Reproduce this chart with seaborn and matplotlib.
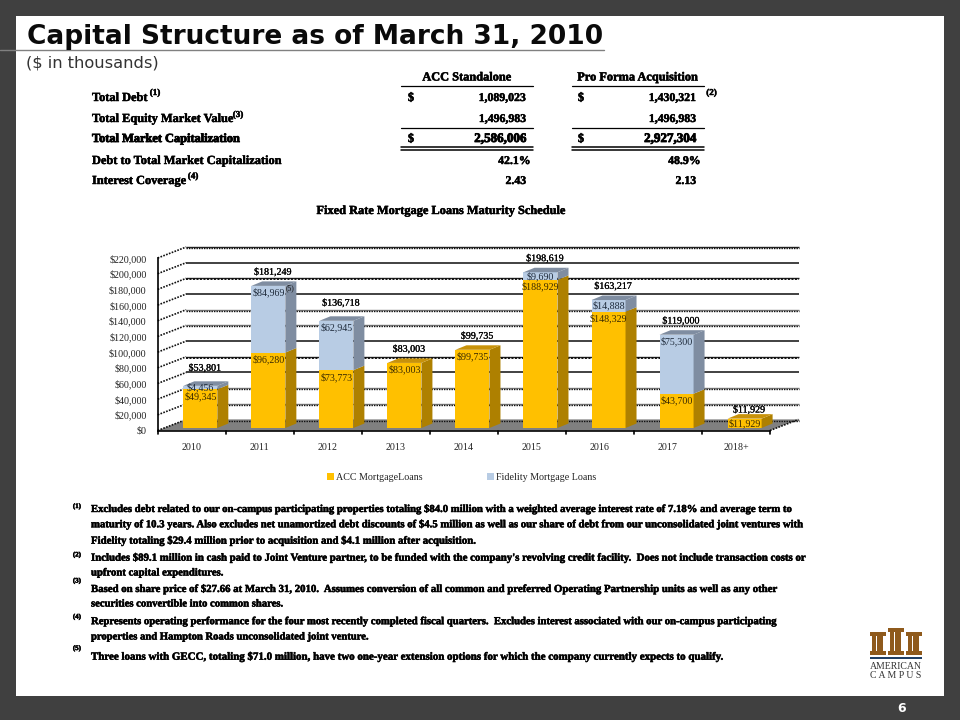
import matplotlib
matplotlib.use("Agg")
import matplotlib.pyplot as plt
import seaborn as sns
import numpy as np
from matplotlib.patches import Rectangle
from matplotlib.transforms import Affine2D
import matplotlib.patheffects as pe

# ---------- data ----------
years = ["2010", "2011", "2012", "2013", "2014", "2015", "2016", "2017", "2018+"]
acc_loans = [49345, 96280, 73773, 83003, 99735, 188929, 148329, 43700, 11929]
fidelity_loans = [4456, 84969, 62945, 0, 0, 9690, 14888, 75300, 0]
y_ticks = [0, 20000, 40000, 60000, 80000, 100000, 120000, 140000, 160000, 180000, 200000, 220000]
series_names = ["ACC MortgageLoans", "Fidelity Mortgage Loans"]

table_headers = ["ACC Standalone", "Pro Forma Acquisition"]
table_rows = ["Total Debt", "Total Equity Market Value", "Total Market Capitalization",
              "Debt to Total Market Capitalization", "Interest Coverage"]
acc_column = ["1,089,023", "1,496,983", "2,586,006", "42.1%", "2.43"]
pro_forma_column = ["1,430,321", "1,496,983", "2,927,304", "48.9%", "2.13"]

footnotes = [
    "Excludes debt related to our on-campus participating properties totaling $84.0 million with a weighted average interest rate of 7.18% and average term to",
    "maturity of 10.3 years. Also excludes net unamortized debt discounts of $4.5 million as well as our share of debt from our unconsolidated joint ventures with",
    "Fidelity totaling $29.4 million prior to acquisition and $4.1 million after acquisition.",
    "Includes $89.1 million in cash paid to Joint Venture partner, to be funded with the company's revolving credit facility.  Does not include transaction costs or",
    "upfront capital expenditures.",
    "Based on share price of $27.66 at March 31, 2010.  Assumes conversion of all common and preferred Operating Partnership units as well as any other",
    "securities convertible into common shares.",
    "Represents operating performance for the four most recently completed fiscal quarters.  Excludes interest associated with our on-campus participating",
    "properties and Hampton Roads unconsolidated joint venture.",
    "Three loans with GECC, totaling $71.0 million, have two one-year extension options for which the company currently expects to qualify.",
]

# ---------- page ----------
sns.set_theme(style="white")
plt.rcParams["font.family"] = ["Liberation Serif", "DejaVu Sans"]
W, H = 960, 720
fig = plt.figure(figsize=(9.6, 7.2), dpi=100, facecolor="#404040")
page = fig.add_axes([0, 0, 1, 1], zorder=0)
page.set_xlim(0, W); page.set_ylim(H, 0); page.axis("off")
page.add_patch(Rectangle((16, 16), 928, 680, fc="white", ec="none"))
page.plot([0, 604], [49.5, 49.5], color="#808080", lw=1)

page.text(27, 37, "Capital Structure as of March 31, 2010", family="DejaVu Sans", weight="bold",
          fontsize=19.0, va="center", color="#0a0a0a", parse_math=False)
page.text(26, 63, "($ in thousands)", family="DejaVu Sans", fontsize=11.7, va="center", color="#333333",
          parse_math=False)
page.text(902, 709, "6", family="DejaVu Sans", weight="bold", fontsize=9, color="white", ha="center", va="center")

SERIF = dict(family="Liberation Serif", weight="bold", color="black", va="center", parse_math=False)
HEAVY = [pe.withStroke(linewidth=0.35, foreground="black")]
HEAVIER = [pe.withStroke(linewidth=0.6, foreground="black")]

def body(x, y, s, size=7.7, ha="left", effect=HEAVY):
    t = page.text(x, y, s, fontsize=size, ha=ha, **SERIF)
    t.set_path_effects(effect)
    return t

# ---------- table ----------
column_spans = [(401, 533), (572, 704)]
row_y = [98, 119, 139, 161, 181]
for (a, b), head in zip(column_spans, table_headers):
    body((a + b) / 2, 77.5, head, size=8.9, ha="center")
    page.plot([a, b], [85.5, 85.5], color="black", lw=0.9)
    page.plot([a, b], [127.5, 127.5], color="black", lw=0.9)
    page.plot([a, b], [146.5, 146.5], color="black", lw=1.1)
    page.plot([a, b], [149.5, 149.5], color="black", lw=1.1)
for i, (y, label) in enumerate(zip(row_y, table_rows)):
    body(92, y, label, size=8.9, effect=HEAVIER if i == 2 else HEAVY)
body(155, 93, "(1)", size=6.5, ha="center")
body(238, 115, "(3)", size=6.5, ha="center")
body(193, 176.5, "(4)", size=6.5, ha="center")
body(711.5, 93, "(2)", size=6.5, ha="center")
for i, (y, v1, v2) in enumerate(zip(row_y, acc_column, pro_forma_column)):
    off = 4.5 if v1.endswith("%") else 0
    big = i == 2
    for xr, v in ((526 + off, v1), (696 + off, v2)):
        body(xr, y, v, size=9.4 if big else 8.5, ha="right", effect=HEAVIER if big else HEAVY)
for y in (row_y[0], row_y[2]):
    body(411, y, "$", size=8.9, ha="center")
    body(581, y, "$", size=8.9, ha="center")
body(441.5, 211, "Fixed Rate Mortgage Loans Maturity Schedule", size=8.9, ha="center")

# ---------- footnotes ----------
note_y = [509, 524.3, 540.7, 557.7, 573, 589, 604, 621.7, 637, 656.7]
note_size = [7.7, 7.72, 7.79, 7.78, 7.7, 7.77, 7.66, 7.69, 7.64, 7.87]
for y, s, fs in zip(note_y, footnotes, note_size):
    body(91, y, s, size=fs)
for y, m in zip([506.5, 555, 581, 617, 648.5], ["(1)", "(2)", "(3)", "(4)", "(5)"]):
    body(77, y, m, size=5, ha="center")

# ---------- logo ----------
brown = "#8f5a1c"
for cx, top in [(877.5, 632), (895.5, 628), (913.5, 632)]:
    page.add_patch(Rectangle((cx - 8, top), 16, 4, fc=brown, ec="none"))
    page.add_patch(Rectangle((cx - 5.5, top + 4), 4, 651 - top - 4, fc=brown, ec="none"))
    page.add_patch(Rectangle((cx - 0.5, top + 4), 6, 651 - top - 4, fc=brown, ec="none"))
    page.add_patch(Rectangle((cx - 8, 651), 16, 4, fc=brown, ec="none"))
page.add_patch(Rectangle((870, 657), 52, 2, fc="#1f3f66", ec="none"))
page.text(896, 666.5, "AMERICAN", family="Liberation Serif", fontsize=7, color="#333333", ha="center", va="center")
page.text(896, 676, "C A M P U S", family="Liberation Serif", fontsize=7, color="#333333", ha="center", va="center")

# ---------- chart ----------
x0, x1, y_base, y_top = 157.7, 770.0, 430.5, 258.0
ax = fig.add_axes([x0 / W, 1 - y_base / H, (x1 - x0) / W, (y_base - y_top) / H], zorder=1)
ax.patch.set_alpha(0)

sns.barplot(x=years, y=acc_loans, color="#ffc000", saturation=1, width=0.5, errorbar=None,
            label=series_names[0], ax=ax, zorder=5, linewidth=0)
sns.barplot(x=years, y=fidelity_loans, bottom=acc_loans, color="#b8cce4", saturation=1, width=0.5,
            errorbar=None, label=series_names[1], ax=ax, zorder=5, linewidth=0)
ax.set_xlim(-0.5, 8.5)
ax.set_ylim(0, 220000)

px_x = (x1 - x0) / 9
px_y = (y_base - y_top) / 220000
wall_dx, wall_dy = 28.5, 11.0
wall = ax.transData + Affine2D().translate(wall_dx, wall_dy)
wall_low = ax.transData + Affine2D().translate(wall_dx, wall_dy - 1)
shift = ax.transData + Affine2D().translate(8.6, 2.5)

for p in ax.patches:
    p.set_transform(shift)

# floor
ax.fill([-0.5, 8.5, 8.5 + wall_dx / px_x, -0.5 + wall_dx / px_x],
        [0, 0, wall_dy / px_y, wall_dy / px_y], color="#808080", lw=0, zorder=1, clip_on=False)

# back-wall gridlines: a grey rule, with a dotted black one under most of them
solid_lines = [60000, 100000, 160000, 200000]
thick_lines = [80000, 180000]
for v in y_ticks:
    if v in solid_lines:
        ax.plot([-0.5, 8.5], [v, v], color="#333333", lw=1.3, transform=wall, zorder=2,
                clip_on=False, solid_capstyle="butt")
    else:
        grey = "#222222" if v in thick_lines or v == 220000 else "#777777"
        ax.plot([-0.5, 8.5], [v, v], color=grey, lw=1.0, transform=wall, zorder=2,
                clip_on=False, solid_capstyle="butt")
        ax.plot([-0.5, 8.5], [v, v], color="#111111", lw=1.4 if v in thick_lines else 1.0,
                ls=(0, (1, 0.8)), transform=wall_low, zorder=2, clip_on=False)
    ax.plot([-0.5, -0.5 + wall_dx / px_x], [v, v + wall_dy / px_y], color="#111111", lw=1.2,
            ls=(0, (1, 0.8)), zorder=2, clip_on=False)
ax.plot([8.5, 8.5 + wall_dx / px_x], [0, wall_dy / px_y], color="#111111", lw=1.2,
        ls=(0, (1, 0.8)), zorder=2, clip_on=False)

# 3-D faces of the bars
depth_x, depth_y = 11.0 / px_x, 4.5 / px_y
half = 0.25
for i, (a, f) in enumerate(zip(acc_loans, fidelity_loans)):
    total = a + f
    segs = [(0, a, "#ae8000", "#c8920a")]
    if f:
        segs.append((a, total, "#7f8da1", "#7f8da1"))
    for lo, hi, side, top in segs:
        ax.fill([i + half, i + half + depth_x, i + half + depth_x, i + half],
                [lo, lo + depth_y, hi + depth_y, hi], color=side, lw=0, zorder=5,
                transform=shift, clip_on=False)
    ax.fill([i - half, i + half, i + half + depth_x, i - half + depth_x],
            [total, total, total + depth_y, total + depth_y], color=segs[-1][3], lw=0, zorder=5,
            transform=shift, clip_on=False)

# value labels
lab = dict(fontsize=7.2, family="Liberation Serif", ha="center", va="center", zorder=8,
           annotation_clip=False, xycoords=shift, textcoords="offset pixels", parse_math=False)
total_gap = {0: 18, 2: 18, 8: 9}
for i, (a, f) in enumerate(zip(acc_loans, fidelity_loans)):
    total = a + f
    ax.annotate(f"${a:,}", (i, a), xytext=(0, -min(6.8, a * px_y / 2)), color="#3a2a00", **lab)
    if f:
        gap = min(6.8, f * px_y / 2)
        ax.annotate(f"${f:,}", (i, total), xytext=(0, -gap), color="#1e2a3a", **lab)
    t = ax.annotate(f"${total:,}", (i, total), xytext=(4.5, total_gap.get(i, 14)), color="black", **lab)
    t.set_path_effects([pe.withStroke(linewidth=0.15, foreground="black")])
ax.text(290.5, 288.5, "(5)", fontsize=5.5, family="Liberation Serif", ha="center", va="center",
        zorder=9, color="#111111", transform=page.transData, clip_on=False)

# axes furniture
ax.set_yticks(y_ticks)
ax.set_yticklabels([f"${v:,}" for v in y_ticks], fontsize=7.2, color="#222222", parse_math=False)
ax.set_xticks(np.arange(9))
ax.set_xticklabels(years, fontsize=7.2, color="#222222")
ax.tick_params(axis="x", length=0, pad=9)
ax.tick_params(axis="y", length=0, pad=8)
for bound in np.arange(-0.5, 9):
    ax.plot([bound, bound], [0, -3 / px_y], color="black", lw=1.2, clip_on=False, zorder=3)
sns.despine(ax=ax, top=True, right=True)
for s in ("left", "bottom"):
    ax.spines[s].set_color("black")
    ax.spines[s].set_linewidth(1.2)
    ax.spines[s].set_zorder(4)
ax.set_xlabel(""); ax.set_ylabel("")

h, l = ax.get_legend_handles_labels()
leg = ax.legend(h[:2], l[:2], ncol=2, frameon=False, fontsize=7.2, handlelength=0.7, handleheight=0.7,
                handletextpad=0.15, columnspacing=6.5, loc="center",
                bbox_to_anchor=(461.5 / W, 1 - 477.5 / H), bbox_transform=fig.transFigure)
for t in leg.get_texts():
    t.set_color("#222222")

fig.savefig("out.png", dpi=100, facecolor=fig.get_facecolor())
